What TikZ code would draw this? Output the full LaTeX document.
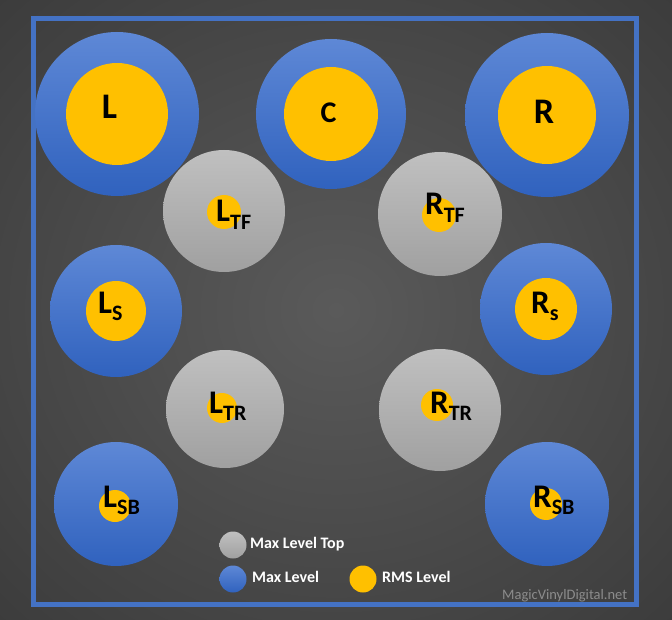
\documentclass[tikz,border=0pt]{standalone}
\usepackage{fontspec}
\setmainfont{Carlito}
\definecolor{maxblue}{RGB}{68,114,196}
\definecolor{bluetop}{RGB}{94,136,214}
\definecolor{bluebot}{RGB}{48,98,190}
\definecolor{graytop}{RGB}{192,192,192}
\definecolor{graybot}{RGB}{160,160,160}
\definecolor{rmsgold}{RGB}{255,192,0}
\definecolor{bgin}{RGB}{90,90,90}
\definecolor{bgmid}{RGB}{58,58,58}
\definecolor{bgout}{RGB}{42,42,42}
\definecolor{markgray}{RGB}{140,140,140}
\pgfdeclareradialshading{bgglow}{\pgfpoint{0bp}{0bp}}{color(0bp)=(bgin); color(38bp)=(bgmid); color(50bp)=(bgout)}
\newcommand{\chan}[2]{{\fontsize{33}{33}\selectfont #1}\raisebox{-7.5pt}{\fontsize{22}{22}\selectfont #2}}

\begin{document}
\begin{tikzpicture}[x=1pt,y=-1pt,font=\bfseries]
\tikzstyle{disc}=[circle,inner sep=0pt,outer sep=0pt]
\tikzstyle{maxc}=[disc,top color=bluetop,bottom color=bluebot]
\tikzstyle{topc}=[disc,top color=graytop,bottom color=graybot]
\tikzstyle{rms}=[disc,fill=rmsgold]
\tikzstyle{lab}=[inner sep=0pt,anchor=base west]
\tikzstyle{key}=[inner sep=0pt,anchor=base west,text=white,font=\fontsize{16}{16}\selectfont\bfseries]
\useasboundingbox (0,0) rectangle (672,620);
\shade[shading=bgglow] (0,0) rectangle (672,620);
\draw[maxblue,line width=5pt] (33.5,19) rectangle (636.5,604.5);
% front channels
\foreach \n/\x/\y/\r/\s in {L/117/114/82/51,C/331/114/75/47,R/547/115/82/49,LS/116/311/66/30,RS/546/309/66/31}
  {\node[maxc,minimum size=2*\r] (\n) at (\x,\y) {};
   \node[rms,minimum size=2*\s] (\n-rms) at (\x,\y) {};}
\foreach \n/\x/\y/\r/\a/\b/\s in {LSB/116/504/62/115/506/16,RSB/547/504/62/546/504/16}
  {\node[maxc,minimum size=2*\r] (\n) at (\x,\y) {};
   \node[rms,minimum size=2*\s] (\n-rms) at (\a,\b) {};}
% top channels
\foreach \n/\x/\y/\r/\a/\b/\s in {LTF/224/211/61/224/212/17,RTF/440/214/62/439/215/17,LTR/225/409/59/222/408/15,RTR/440/410/61/437/405/16}
  {\node[topc,minimum size=2*\r] (\n) at (\x,\y) {};
   \node[rms,minimum size=2*\s] (\n-rms) at (\a,\b) {};}
\node[font=\fontsize{36}{36}\selectfont\bfseries] (L-lab) at (109.5,106.5) {L};
\node[font=\fontsize{30}{30}\selectfont\bfseries] (C-lab) at (328.5,112.5) {C};
\node[font=\fontsize{36}{36}\selectfont\bfseries] (R-lab) at (544,112) {R};
\node[lab] (LTF-lab) at (216,222) {\chan{L}{TF}};
\node[lab] (RTF-lab) at (425,215) {\chan{R}{TF}};
\node[lab] (LS-lab) at (98,313) {\chan{L}{S}};
\node[lab] (RS-lab) at (531,313) {\chan{R}{s}};
\node[lab] (LTR-lab) at (209,413) {\chan{L}{TR}};
\node[lab] (RTR-lab) at (430,413) {\chan{R}{TR}};
\node[lab] (LSB-lab) at (103,507) {\chan{L}{SB}};
\node[lab] (RSB-lab) at (533,507) {\chan{R}{SB}};
% legend
\node[topc,minimum size=27] (key-top) at (233,545) {};
\node[maxc,minimum size=27] (key-max) at (233,579) {};
\node[rms,minimum size=27] (key-rms) at (363,579) {};
\node[key] (key-top-lab) at (250,548) {Max Level Top};
\node[key] (key-max-lab) at (252,582) {Max Level};
\node[key] (key-rms-lab) at (382,582) {RMS Level};
\node[inner sep=0pt,anchor=base west,text=markgray,font=\fontsize{14.5}{14.5}\selectfont] (mark) at (502,599) {MagicVinylDigital.net};
\end{tikzpicture}
\end{document}
